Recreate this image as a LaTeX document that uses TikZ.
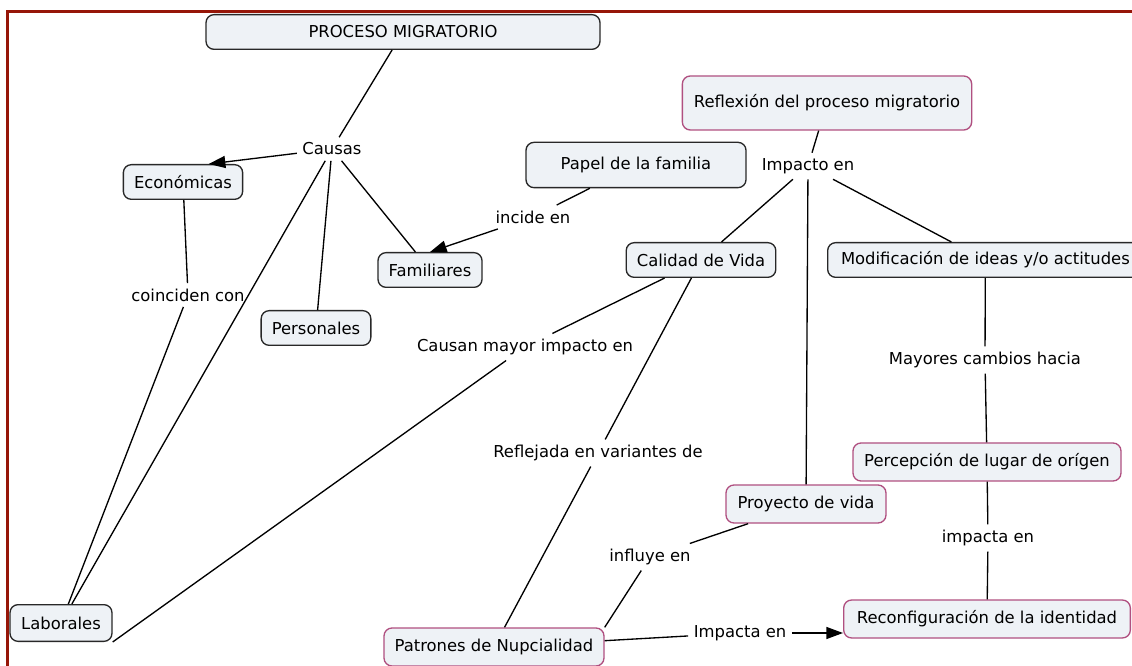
\documentclass[tikz,border=0pt]{standalone}
\usepackage{fontspec}
\setmainfont{DejaVu Sans}
\usetikzlibrary{arrows.meta}
\definecolor{boxfill}{RGB}{238,242,246}
\definecolor{boxline}{RGB}{40,40,40}
\definecolor{pinkline}{RGB}{176,80,128}
\definecolor{framered}{RGB}{150,22,8}
\tikzset{
  concept/.style={rectangle, rounded corners=6pt, draw=boxline, fill=boxfill, line width=1pt, minimum height=26pt, inner xsep=8pt},
  keyidea/.style={concept, draw=pinkline, minimum height=28.5pt},
  linkword/.style={inner sep=4pt},
  link/.style={line width=1pt},
  linkarrow/.style={link, -{Triangle[length=12.5pt,width=9pt]}}
}
\begin{document}
\begin{tikzpicture}[x=0.75pt, y=-0.75pt, font=\fontsize{12.3}{14}\selectfont]
\useasboundingbox (0,0) rectangle (1132,666);
\draw[framered, line width=2.25pt] (7,700) -- (7,12) -- (1160,12);
% causes side
\node[concept, minimum width=295.5pt] (proceso) at (403,32) {PROCESO MIGRATORIO};
\node[linkword] (causas) at (332,149) {Causas};
\node[concept] (econ) at (183,182) {Económicas};
\node[linkword] (coinciden) at (188,295) {coinciden con};
\node[concept] (pers) at (316,328) {Personales};
\node[concept] (fam) at (430,270) {Familiares};
\node[concept, minimum width=76.5pt, minimum height=27.5pt] (laborales) at (61,623) {Laborales};
\node[concept, minimum width=165pt, minimum height=34pt] (papel) at (636,165) {Papel de la familia};
\node[linkword] (incide) at (533,217) {incide en};
% reflection side
\node[keyidea, minimum width=217pt, minimum height=40.5pt] (reflexion) at (827,103) {Reflexión del proceso migratorio};
\node[linkword] (impacto) at (808,166) {Impacto en};
\node[concept] (calidad) at (701,260) {Calidad de Vida};
\node[concept, anchor=west, inner xsep=10pt] (modif) at (827,260) {Modificación de ideas y/o actitudes};
\node[linkword] (mayores) at (985,360) {Mayores cambios hacia};
\node[linkword] (causan) at (525,347) {Causan mayor impacto en};
\node[linkword] (reflejada) at (598,453) {Reflejada en variantes de};
\node[keyidea, minimum width=201pt] (percep) at (987,462) {Percepción de lugar de orígen};
\node[keyidea, minimum width=120pt] (proyecto) at (806,504) {Proyecto de vida};
\node[linkword] (impacta) at (988,538) {impacta en};
\node[linkword] (influye) at (650,557) {influye en};
\node[keyidea, minimum width=215pt] (reconf) at (987,619) {Reconfiguración de la identidad};
\node[linkword] (impacta2) at (740,633) {Impacta en};
\node[keyidea, minimum width=164pt] (patrones) at (494,647) {Patrones de Nupcialidad};
% connectors
\draw[link] (proceso) -- (causas);
\draw[linkarrow] (causas) -- (econ.35);
\draw[link] (causas) -- (fam);
\draw[link] (causas) -- (pers);
\draw[link] (causas) -- (laborales);
\draw[link] (econ) -- (coinciden);
\draw[link] (coinciden) -- (laborales);
\draw[link] (papel) -- (incide);
\draw[linkarrow] (incide) -- (fam.north);
\draw[link] (reflexion) -- (impacto);
\draw[link] (impacto) -- (calidad);
\draw[link] (impacto) -- (proyecto);
\draw[link] (impacto) -- (modif);
\draw[link] (calidad) -- (causan);
\draw[link] (causan) -- (laborales.south east);
\draw[link] (calidad) -- (reflejada);
\draw[link] (reflejada) -- (patrones);
\draw[link] (modif) -- (mayores);
\draw[link] (mayores) -- (percep);
\draw[link] (percep) -- (impacta);
\draw[link] (impacta) -- (reconf);
\draw[link] (proyecto) -- (influye);
\draw[link] (influye) -- (patrones.north east);
\draw[link] (patrones) -- (impacta2);
\draw[linkarrow] (impacta2) -- (reconf.west |- impacta2);
\end{tikzpicture}
\end{document}
